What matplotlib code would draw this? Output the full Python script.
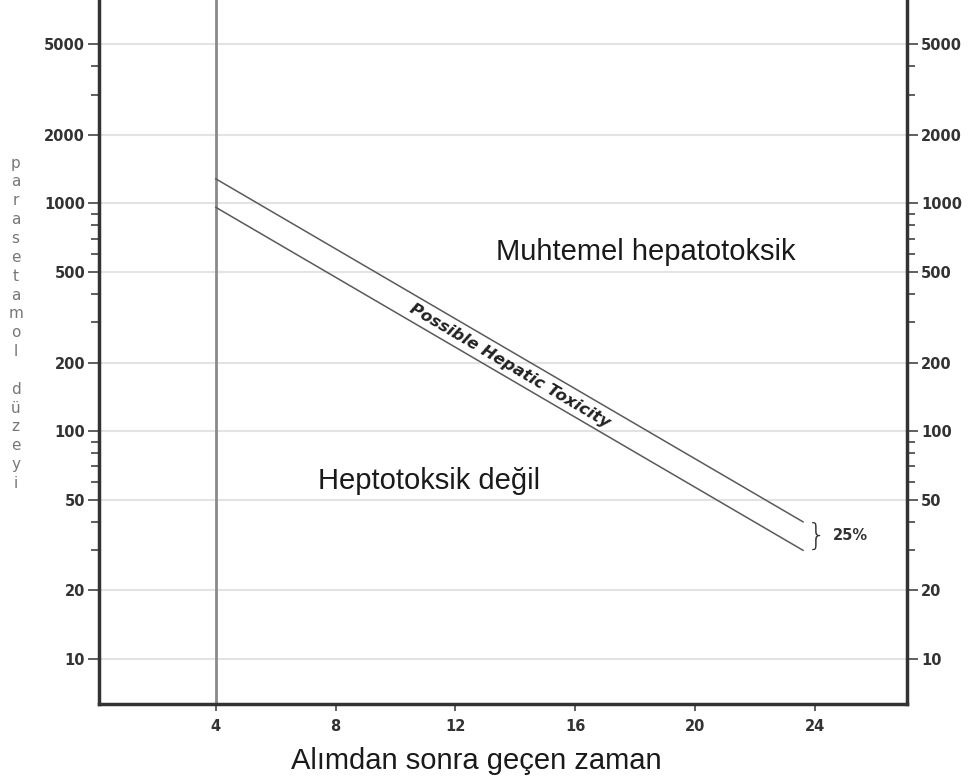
import matplotlib
matplotlib.use("Agg")
import matplotlib.pyplot as plt
from matplotlib.ticker import FixedLocator, NullFormatter

# Datos del nomograma
horas = [4, 23.6]
linea_superior = [1280, 40]
linea_inferior = [960, 30]

x_ticks = [4, 8, 12, 16, 20, 24]
y_ticks = [10, 20, 50, 100, 200, 500, 1000, 2000, 5000]
y_minor = [30, 40, 60, 70, 80, 90, 300, 400, 600, 700, 800, 900, 3000, 4000]

fig = plt.figure(figsize=(9.76, 7.79), dpi=100)
ax = fig.add_axes([0.1014, 0.0963, 0.8279, 0.9037])

ax.set_yscale("log")
ax.set_xlim(0.1, 27.07)
ax.set_ylim(6.35, 7800)

# Rejilla horizontal
for v in y_ticks:
    ax.axhline(v, color="#e3e3e3", lw=1.5, zorder=0)

# Línea vertical a las 4 horas
ax.axvline(4, color="#8a8a8a", lw=2, zorder=1)

# Líneas de tratamiento
ax.plot(horas, linea_superior, color="#5a5a5a", lw=1.1, zorder=2)
ax.plot(horas, linea_inferior, color="#5a5a5a", lw=1.1, zorder=2)

ax.text(13.8, 194, "Possible Hepatic Toxicity", rotation=-30.5,
        rotation_mode="anchor", ha="center", va="center", fontsize=11.8,
        fontweight="bold", fontstyle="italic", color="#222222")

ax.text(0.677, 0.642, "Muhtemel hepatotoksik", transform=ax.transAxes,
        ha="center", va="center", fontsize=21, family="Liberation Sans",
        color="#1a1a1a")
ax.text(0.409, 0.317, "Heptotoksik değil", transform=ax.transAxes,
        ha="center", va="center", fontsize=21, family="Liberation Sans",
        color="#1a1a1a")

# Llave y 25%
ax.text(24.05, 34.5, "}", ha="center", va="center", fontsize=22,
        color="#333333", fontweight="light")
ax.text(24.6, 35, "25%", ha="left", va="center", fontsize=10.5,
        fontweight="bold", color="#333333")

# Ejes
ax.set_xticks(x_ticks)
ax.set_xticklabels([str(t) for t in x_ticks])
ax.yaxis.set_major_locator(FixedLocator(y_ticks))
ax.yaxis.set_minor_locator(FixedLocator(y_minor))
ax.set_yticklabels([str(t) for t in y_ticks])
ax.yaxis.set_minor_formatter(NullFormatter())

ax.tick_params(axis="y", which="both", direction="out", left=True, right=True,
               labelleft=True, labelright=True, colors="#444444",
               labelcolor="#333333")
ax.tick_params(axis="y", which="major", length=8, width=1.2, labelsize=10.5,
               pad=2)
ax.tick_params(axis="y", which="minor", length=6, width=1.2)
ax.tick_params(axis="x", which="major", direction="out", length=5, width=1.2,
               labelsize=10.5, colors="#444444", labelcolor="#333333", pad=6)
for lab in ax.get_xticklabels() + ax.get_yticklabels():
    lab.set_fontweight("bold")

for lado in ["left", "right", "bottom"]:
    ax.spines[lado].set_linewidth(2.5)
    ax.spines[lado].set_color("#333333")
ax.spines["top"].set_visible(False)

fig.text(476 / 976, 1 - 761 / 779, "Alımdan sonra geçen zaman", fontsize=21,
         family="Liberation Sans", color="#1a1a1a", ha="center", va="center")

# Etiqueta vertical letra por letra
etiqueta = "parasetamol düzeyi"
fig.text(0.016, 0.585, "\n".join(etiqueta), ha="center", va="center",
         fontsize=11, color="#777777", linespacing=1.32)

fig.savefig("out.png", dpi=100)
